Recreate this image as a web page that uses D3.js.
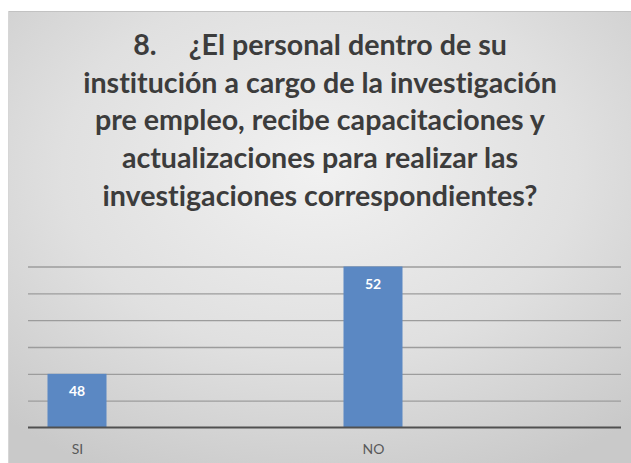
<!DOCTYPE html>
<html>
<head>
<meta charset="utf-8">
<script src="https://cdn.jsdelivr.net/npm/d3@7"></script>
<style>
  html, body { margin: 0; padding: 0; background: #ffffff; }
  svg { display: block; }
  svg text { font-variant-ligatures: none; font-feature-settings: "liga" 0, "dlig" 0; }
</style>
</head>
<body>
<svg id="chart" width="631" height="463"></svg>
<script>
// Survey answers for question 8
const categories = ["SI", "NO"];
const values = [48, 52];
const gridValues = [47, 48, 49, 50, 51, 52];
const axisMin = 46;
const axisMax = 52;
const titleNumber = "8.";
const titleLines = [
  "¿El personal dentro de su",
  "institución a cargo de la investigación",
  "pre empleo, recibe capacitaciones y",
  "actualizaciones para realizar las",
  "investigaciones correspondientes?"
];

const W = 631, H = 463;
const svg = d3.select("#chart");

// Panel background with a soft radial gradient
const defs = svg.append("defs");
const grad = defs.append("radialGradient")
  .attr("id", "panelFill")
  .attr("cx", "50%").attr("cy", "35%").attr("r", "75%");
grad.append("stop").attr("offset", "0%").attr("stop-color", "#f1f1f1");
grad.append("stop").attr("offset", "55%").attr("stop-color", "#e0e0e0");
grad.append("stop").attr("offset", "100%").attr("stop-color", "#c9c9c9");

const panel = { x: 8, y: 11 };
svg.append("rect")
  .attr("x", panel.x).attr("y", panel.y)
  .attr("width", W - panel.x).attr("height", H - panel.y)
  .attr("fill", "url(#panelFill)");
svg.append("line")
  .attr("x1", panel.x).attr("x2", W)
  .attr("y1", panel.y + 0.5).attr("y2", panel.y + 0.5)
  .attr("stroke", "#c2c2c2").attr("stroke-width", 1.2);
svg.append("line")
  .attr("x1", panel.x + 0.5).attr("x2", panel.x + 0.5)
  .attr("y1", panel.y).attr("y2", H)
  .attr("stroke", "#d6d6d6").attr("stroke-width", 1);

// Title
const titleCx = 320;
const titleFirstBaseline = 55;
const titleLineStep = 37.7;
const titleG = svg.append("g");
const titleText = titleG.selectAll("text")
  .data(titleLines)
  .join("text")
  .attr("x", 0)
  .attr("y", (d, i) => titleFirstBaseline + i * titleLineStep)
  .attr("text-anchor", "middle")
  .attr("font-family", "Lato, 'Open Sans', sans-serif")
  .attr("font-weight", 700)
  .attr("font-size", 28.5)
  .attr("fill", "#3c3c3c");
titleText.each(function (d, i) {
  const t = d3.select(this);
  if (i === 0) {
    t.append("tspan").text(titleNumber);
    t.append("tspan").attr("dx", 32).text(d);
  } else {
    t.text(d);
  }
});
// Condense the title to the width of a narrow sans face
const refWidth = titleText.nodes()[1].getComputedTextLength();
const sx = 474 / refWidth;
titleG.attr("transform", `translate(${titleCx},0) scale(${sx},1)`);

// Plot area
const plot = { left: 28, right: 621, top: 266.5, bottom: 427.5 };
const y = d3.scaleLinear().domain([axisMin, axisMax]).range([plot.bottom, plot.top]);
const x = d3.scalePoint().domain(categories).range([77, 373]);
const barWidth = 59;

// Gridlines
const grid = svg.append("g")
  .attr("transform", `translate(${plot.left},0)`)
  .call(d3.axisLeft(y)
    .tickValues(gridValues)
    .tickSize(-(plot.right - plot.left))
    .tickFormat(""));
grid.select(".domain").remove();
grid.selectAll(".tick line")
  .attr("stroke", "#9c9c9c")
  .attr("stroke-width", 1.3);

// Bars
svg.append("g").selectAll("rect")
  .data(values)
  .join("rect")
  .attr("x", (d, i) => x(categories[i]) - barWidth / 2)
  .attr("y", d => y(d))
  .attr("width", barWidth)
  .attr("height", d => y(axisMin) - y(d))
  .attr("fill", "#5b88c3");

// Category axis baseline and labels
const xAxis = svg.append("g")
  .attr("transform", `translate(0,${y(axisMin)})`)
  .call(d3.axisBottom(x).tickSize(0).tickPadding(0));
xAxis.select(".domain").remove();
xAxis.selectAll(".tick text")
  .attr("dy", 0)
  .attr("y", 26)
  .attr("font-family", "Lato, 'Open Sans', sans-serif")
  .attr("font-size", 14)
  .attr("fill", "#595959");
svg.append("line")
  .attr("x1", plot.left).attr("x2", plot.right)
  .attr("y1", y(axisMin)).attr("y2", y(axisMin))
  .attr("stroke", "#505050").attr("stroke-width", 2);

// Value labels inside bars
svg.append("g").selectAll("text")
  .data(values)
  .join("text")
  .attr("x", (d, i) => x(categories[i]))
  .attr("y", d => y(d) + 22.5)
  .attr("text-anchor", "middle")
  .attr("font-family", "Lato, 'Open Sans', sans-serif")
  .attr("font-weight", 700)
  .attr("font-size", 14)
  .attr("fill", "#ffffff")
  .text(d => d);
</script>
</body>
</html>
